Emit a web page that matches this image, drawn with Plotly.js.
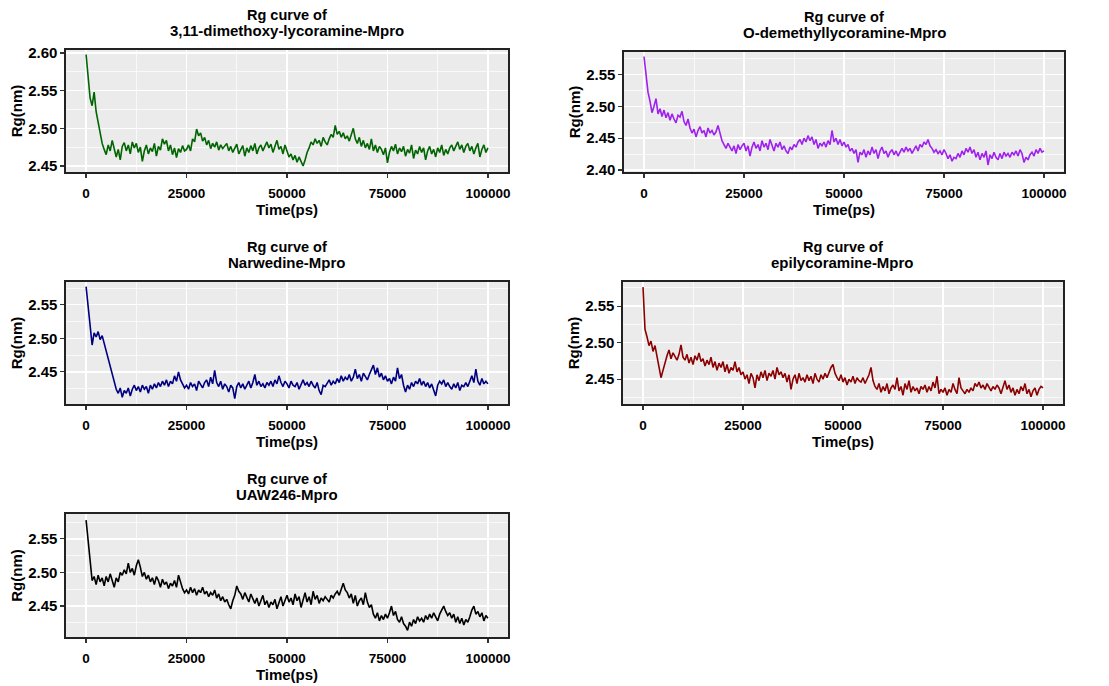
<!DOCTYPE html>
<html>
<head>
<meta charset="utf-8">
<script src="https://cdn.plot.ly/plotly-3.0.1.min.js"></script>
<style>html,body{margin:0;padding:0;background:#fff;}</style>
</head>
<body>
<div id="chart" style="width:1109px;height:686px;"></div>
<script>
// ---- data (500 ps sampling) ----
const timePs = [
0,500,1000,1500,2000,2500,3000,3500,4000,4500,
5000,5500,6000,6500,7000,7500,8000,8500,9000,9500,
10000,10500,11000,11500,12000,12500,13000,13500,14000,14500,
15000,15500,16000,16500,17000,17500,18000,18500,19000,19500,
20000,20500,21000,21500,22000,22500,23000,23500,24000,24500,
25000,25500,26000,26500,27000,27500,28000,28500,29000,29500,
30000,30500,31000,31500,32000,32500,33000,33500,34000,34500,
35000,35500,36000,36500,37000,37500,38000,38500,39000,39500,
40000,40500,41000,41500,42000,42500,43000,43500,44000,44500,
45000,45500,46000,46500,47000,47500,48000,48500,49000,49500,
50000,50500,51000,51500,52000,52500,53000,53500,54000,54500,
55000,55500,56000,56500,57000,57500,58000,58500,59000,59500,
60000,60500,61000,61500,62000,62500,63000,63500,64000,64500,
65000,65500,66000,66500,67000,67500,68000,68500,69000,69500,
70000,70500,71000,71500,72000,72500,73000,73500,74000,74500,
75000,75500,76000,76500,77000,77500,78000,78500,79000,79500,
80000,80500,81000,81500,82000,82500,83000,83500,84000,84500,
85000,85500,86000,86500,87000,87500,88000,88500,89000,89500,
90000,90500,91000,91500,92000,92500,93000,93500,94000,94500,
95000,95500,96000,96500,97000,97500,98000,98500,99000,99500,
100000];

const rgDimethoxyLycoramine = [
2.598,2.566,2.540,2.530,2.548,2.522,2.508,2.492,2.480,2.472,
2.465,2.478,2.470,2.484,2.474,2.462,2.472,2.458,2.476,2.481,
2.470,2.478,2.466,2.482,2.474,2.480,2.468,2.475,2.456,2.470,
2.478,2.466,2.474,2.469,2.480,2.463,2.476,2.471,2.486,2.479,
2.484,2.470,2.478,2.465,2.474,2.461,2.473,2.468,2.477,2.470,
2.472,2.478,2.470,2.486,2.482,2.499,2.490,2.494,2.483,2.488,
2.478,2.484,2.473,2.480,2.475,2.482,2.471,2.478,2.473,2.476,
2.480,2.470,2.476,2.468,2.474,2.479,2.466,2.472,2.477,2.463,
2.474,2.468,2.477,2.470,2.480,2.466,2.474,2.478,2.470,2.476,
2.482,2.474,2.479,2.468,2.476,2.484,2.472,2.476,2.466,2.478,
2.470,2.462,2.466,2.458,2.464,2.455,2.462,2.457,2.450,2.458,
2.468,2.474,2.482,2.478,2.486,2.480,2.484,2.476,2.488,2.482,
2.478,2.486,2.492,2.488,2.504,2.492,2.496,2.488,2.494,2.486,
2.490,2.483,2.492,2.500,2.486,2.480,2.488,2.476,2.484,2.474,
2.480,2.472,2.486,2.470,2.478,2.468,2.476,2.472,2.465,2.474,
2.454,2.468,2.476,2.470,2.479,2.466,2.474,2.469,2.476,2.463,
2.472,2.467,2.478,2.460,2.471,2.466,2.476,2.468,2.474,2.458,
2.470,2.476,2.466,2.472,2.462,2.474,2.468,2.478,2.464,2.472,
2.466,2.474,2.478,2.470,2.476,2.482,2.472,2.478,2.468,2.476,
2.480,2.470,2.476,2.466,2.474,2.480,2.462,2.472,2.478,2.468,
2.474];

const rgODemethyllycoramine = [
2.578,2.545,2.522,2.508,2.490,2.500,2.512,2.488,2.496,2.484,
2.494,2.482,2.490,2.478,2.488,2.480,2.474,2.486,2.483,2.492,
2.476,2.470,2.480,2.466,2.458,2.464,2.452,2.462,2.468,2.458,
2.462,2.452,2.466,2.458,2.462,2.455,2.460,2.470,2.458,2.446,
2.440,2.434,2.442,2.436,2.430,2.438,2.426,2.440,2.432,2.438,
2.442,2.430,2.438,2.422,2.436,2.444,2.434,2.440,2.430,2.446,
2.436,2.442,2.432,2.448,2.438,2.430,2.442,2.436,2.444,2.432,
2.438,2.430,2.426,2.436,2.432,2.440,2.436,2.444,2.448,2.440,
2.450,2.444,2.454,2.446,2.452,2.440,2.448,2.434,2.442,2.438,
2.444,2.436,2.446,2.440,2.462,2.444,2.450,2.440,2.448,2.438,
2.444,2.436,2.440,2.430,2.434,2.426,2.432,2.412,2.428,2.424,
2.432,2.420,2.430,2.424,2.436,2.426,2.432,2.418,2.430,2.436,
2.426,2.430,2.420,2.428,2.432,2.424,2.430,2.422,2.428,2.434,
2.428,2.436,2.430,2.434,2.426,2.432,2.438,2.430,2.440,2.436,
2.444,2.440,2.448,2.438,2.434,2.428,2.432,2.426,2.430,2.424,
2.432,2.426,2.418,2.424,2.414,2.420,2.418,2.426,2.420,2.430,
2.424,2.434,2.428,2.436,2.426,2.432,2.420,2.428,2.416,2.426,
2.420,2.430,2.408,2.424,2.418,2.428,2.420,2.416,2.426,2.418,
2.428,2.422,2.426,2.420,2.428,2.424,2.430,2.422,2.432,2.426,
2.412,2.420,2.416,2.424,2.428,2.422,2.432,2.426,2.434,2.428,
2.430];

const rgNarwedine = [
2.577,2.545,2.522,2.490,2.508,2.502,2.510,2.498,2.504,2.492,
2.482,2.470,2.458,2.446,2.432,2.424,2.418,2.426,2.412,2.422,
2.418,2.426,2.414,2.424,2.430,2.422,2.428,2.420,2.430,2.424,
2.428,2.418,2.430,2.424,2.432,2.426,2.434,2.428,2.436,2.430,
2.438,2.428,2.436,2.432,2.444,2.436,2.450,2.438,2.432,2.426,
2.430,2.424,2.434,2.428,2.432,2.422,2.436,2.430,2.426,2.434,
2.438,2.428,2.442,2.432,2.452,2.434,2.428,2.436,2.424,2.432,
2.428,2.420,2.430,2.426,2.410,2.428,2.434,2.426,2.432,2.424,
2.430,2.436,2.426,2.434,2.446,2.430,2.436,2.428,2.432,2.426,
2.434,2.430,2.436,2.428,2.438,2.432,2.444,2.434,2.428,2.436,
2.432,2.426,2.436,2.430,2.428,2.434,2.424,2.432,2.438,2.430,
2.434,2.428,2.436,2.430,2.426,2.434,2.422,2.416,2.430,2.428,
2.434,2.438,2.430,2.436,2.432,2.440,2.434,2.444,2.436,2.442,
2.438,2.446,2.436,2.442,2.454,2.440,2.446,2.436,2.448,2.442,
2.438,2.446,2.452,2.460,2.446,2.456,2.442,2.448,2.438,2.444,
2.436,2.440,2.432,2.442,2.436,2.456,2.440,2.446,2.430,2.420,
2.430,2.424,2.434,2.428,2.436,2.432,2.440,2.430,2.436,2.428,
2.434,2.426,2.432,2.422,2.414,2.430,2.436,2.432,2.438,2.428,
2.434,2.428,2.424,2.432,2.426,2.434,2.422,2.430,2.428,2.434,
2.428,2.436,2.444,2.434,2.454,2.436,2.430,2.440,2.432,2.436,
2.432];

const rgEpilycoramine = [
2.576,2.518,2.508,2.496,2.502,2.488,2.496,2.482,2.470,2.452,
2.462,2.474,2.482,2.490,2.478,2.486,2.480,2.476,2.484,2.497,
2.480,2.476,2.484,2.472,2.480,2.470,2.482,2.476,2.486,2.474,
2.478,2.468,2.476,2.470,2.480,2.466,2.474,2.462,2.472,2.466,
2.474,2.460,2.470,2.458,2.466,2.462,2.474,2.460,2.466,2.456,
2.460,2.450,2.456,2.444,2.458,2.452,2.438,2.456,2.448,2.460,
2.452,2.462,2.448,2.458,2.454,2.462,2.450,2.466,2.456,2.460,
2.452,2.458,2.446,2.456,2.436,2.450,2.456,2.444,2.458,2.448,
2.452,2.446,2.456,2.448,2.454,2.444,2.458,2.450,2.446,2.456,
2.450,2.458,2.452,2.460,2.466,2.470,2.458,2.452,2.448,2.456,
2.446,2.452,2.442,2.450,2.446,2.454,2.444,2.452,2.448,2.446,
2.452,2.444,2.450,2.456,2.466,2.448,2.440,2.436,2.444,2.432,
2.440,2.434,2.444,2.430,2.438,2.442,2.436,2.452,2.434,2.440,
2.428,2.444,2.436,2.448,2.432,2.440,2.434,2.438,2.430,2.440,
2.436,2.442,2.432,2.440,2.434,2.446,2.438,2.454,2.430,2.436,
2.432,2.438,2.428,2.436,2.432,2.444,2.436,2.430,2.452,2.438,
2.434,2.430,2.436,2.432,2.438,2.434,2.444,2.440,2.446,2.438,
2.442,2.436,2.444,2.438,2.434,2.440,2.436,2.442,2.438,2.430,
2.440,2.448,2.436,2.442,2.432,2.438,2.428,2.436,2.430,2.440,
2.434,2.444,2.430,2.436,2.426,2.434,2.438,2.428,2.436,2.440,
2.438];

const rgUAW246 = [
2.578,2.544,2.516,2.488,2.494,2.482,2.496,2.486,2.492,2.480,
2.494,2.486,2.498,2.488,2.478,2.492,2.486,2.500,2.496,2.504,
2.498,2.514,2.500,2.506,2.496,2.510,2.519,2.508,2.494,2.500,
2.490,2.496,2.486,2.492,2.482,2.494,2.488,2.478,2.490,2.482,
2.486,2.476,2.484,2.480,2.488,2.478,2.496,2.486,2.476,2.470,
2.474,2.468,2.478,2.470,2.476,2.466,2.474,2.470,2.478,2.468,
2.472,2.464,2.470,2.466,2.474,2.462,2.468,2.458,2.464,2.456,
2.460,2.452,2.446,2.458,2.466,2.480,2.472,2.468,2.460,2.470,
2.462,2.456,2.468,2.460,2.454,2.462,2.450,2.458,2.466,2.452,
2.458,2.448,2.456,2.452,2.460,2.446,2.454,2.464,2.450,2.458,
2.466,2.456,2.462,2.452,2.468,2.458,2.464,2.448,2.460,2.470,
2.456,2.464,2.452,2.472,2.460,2.466,2.454,2.462,2.458,2.464,
2.460,2.456,2.466,2.462,2.468,2.472,2.466,2.476,2.484,2.474,
2.470,2.462,2.468,2.454,2.466,2.450,2.458,2.462,2.452,2.470,
2.456,2.448,2.452,2.438,2.432,2.440,2.428,2.436,2.430,2.438,
2.432,2.440,2.450,2.436,2.442,2.430,2.426,2.434,2.424,2.420,
2.414,2.426,2.420,2.430,2.424,2.434,2.428,2.432,2.426,2.436,
2.430,2.438,2.432,2.440,2.434,2.428,2.438,2.444,2.450,2.442,
2.436,2.440,2.432,2.438,2.426,2.434,2.424,2.432,2.422,2.430,
2.426,2.434,2.444,2.450,2.438,2.442,2.434,2.440,2.428,2.436,
2.432];

const compoundNames = ["3,11-dimethoxy-lycoramine-Mpro", "O-demethyllycoramine-Mpro",
                       "Narwedine-Mpro", "epilycoramine-Mpro", "UAW246-Mpro"];
const seriesColors = ["#006400", "#A020F0", "#000080", "#8B0000", "#000000"];
const xTickValues = [0, 25000, 50000, 75000, 100000];
const xTickLabels = ["0", "25000", "50000", "75000", "100000"];
const titlePrefix = "Rg curve of";
const xAxisTitle = "Time(ps)";
const yAxisTitle = "Rg(nm)";

// ---- layout (pixel boxes of each panel) ----
const W = 1109, H = 686;
const panels = [
  {l: 66,  r: 508,  t: 50,  b: 172, yr: [2.442, 2.604]},
  {l: 624, r: 1064, t: 52,  b: 172, yr: [2.397, 2.585]},
  {l: 66,  r: 508,  t: 282, b: 404, yr: [2.402, 2.584]},
  {l: 623, r: 1063, t: 282, b: 404, yr: [2.416, 2.583]},
  {l: 66,  r: 508,  t: 514, b: 637, yr: [2.404, 2.587]}
];
const seriesY = [rgDimethoxyLycoramine, rgODemethyllycoramine, rgNarwedine, rgEpilycoramine, rgUAW246];

const FONT = "Liberation Sans, Arial, sans-serif";
const traces = [];
const layout = {
  width: W, height: H,
  margin: {l: 0, r: 0, t: 0, b: 0},
  paper_bgcolor: "#ffffff",
  plot_bgcolor: "#EBEBEB",
  showlegend: false,
  font: {family: FONT, color: "#000000"},
  annotations: []
};

panels.forEach((p, i) => {
  const n = i + 1;
  const xa = "xaxis" + (i === 0 ? "" : n);
  const ya = "yaxis" + (i === 0 ? "" : n);
  const xr = "x" + (i === 0 ? "" : n);
  const yr = "y" + (i === 0 ? "" : n);
  traces.push({
    type: "scatter", mode: "lines",
    x: timePs, y: seriesY[i],
    xaxis: xr, yaxis: yr,
    line: {color: seriesColors[i], width: 1.6},
    hoverinfo: "skip"
  });
  layout[xa] = {
    domain: [p.l / W, p.r / W],
    anchor: yr,
    range: [-5000, 105000],
    tickmode: "array", tickvals: xTickValues, ticktext: xTickLabels,
    ticks: "outside", ticklen: 4, tickwidth: 1.2, tickcolor: "#333333",
    ticklabelstandoff: 4,
    tickfont: {family: FONT, size: 13.5, color: "#000000", weight: "bold"},
    showgrid: true, gridcolor: "#ffffff", gridwidth: 1.4,
    minor: {dtick: 12500, tick0: 0, showgrid: true, gridcolor: "#ffffff", gridwidth: 0.7, ticks: ""},
    showline: true, mirror: true, linecolor: "#222222", linewidth: 1.6,
    zeroline: false,
    title: {text: xAxisTitle, standoff: 4, font: {family: FONT, size: 15, color: "#000000", weight: "bold"}}
  };
  layout[ya] = {
    domain: [1 - p.b / H, 1 - p.t / H],
    anchor: xr,
    range: p.yr,
    tick0: 2.40, dtick: 0.05, tickformat: ".2f",
    ticks: "outside", ticklen: 4, tickwidth: 1.2, tickcolor: "#333333",
    tickfont: {family: FONT, size: 15, color: "#000000", weight: "bold"},
    showgrid: true, gridcolor: "#ffffff", gridwidth: 1.4,
    minor: {dtick: 0.025, tick0: 2.40, showgrid: true, gridcolor: "#ffffff", gridwidth: 0.7, ticks: ""},
    showline: true, mirror: true, linecolor: "#222222", linewidth: 1.6,
    zeroline: false,
    title: {text: yAxisTitle, standoff: 2, font: {family: FONT, size: 15, color: "#000000", weight: "bold"}}
  };
  const cx = (p.l + p.r) / 2 / W;
  layout.annotations.push({
    text: titlePrefix, xref: "paper", yref: "paper",
    x: cx, y: 1 - (p.t - 35) / H, xanchor: "center", yanchor: "middle",
    showarrow: false, font: {family: FONT, size: 14.5, color: "#000000", weight: "bold"}
  });
  layout.annotations.push({
    text: compoundNames[i], xref: "paper", yref: "paper",
    x: cx, y: 1 - (p.t - 20) / H, xanchor: "center", yanchor: "middle",
    showarrow: false, font: {family: FONT, size: 15, color: "#000000", weight: "bold"}
  });
});

Plotly.newPlot("chart", traces, layout, {staticPlot: true, displayModeBar: false});
</script>
</body>
</html>
